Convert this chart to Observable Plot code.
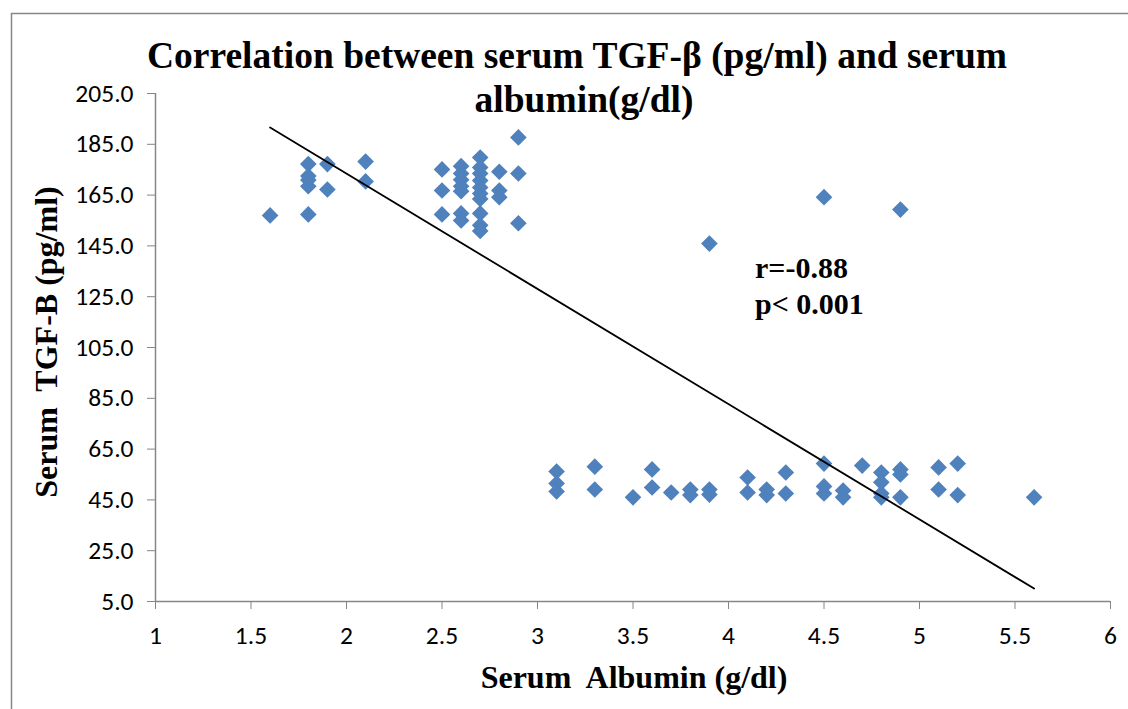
<!DOCTYPE html>
<html>
<head>
<meta charset="utf-8">
<script src="https://cdn.jsdelivr.net/npm/d3@7"></script>
<script src="https://cdn.jsdelivr.net/npm/@observablehq/plot@0.6"></script>
<style>
  html, body { margin: 0; padding: 0; background: #fff; overflow: hidden; }
  #chart { width: 1128px; height: 709px; position: relative; overflow: hidden; }
  #chart svg { overflow: hidden; }
</style>
</head>
<body>
<div id="chart"></div>
<script>
// Serum albumin (g/dl) for each patient
const albumin = [
  1.6,
  1.8, 1.8, 1.8, 1.8, 1.8,
  1.9, 1.9,
  2.1, 2.1,
  2.5, 2.5, 2.5,
  2.6, 2.6, 2.6, 2.6, 2.6, 2.6, 2.6,
  2.7, 2.7, 2.7, 2.7, 2.7, 2.7, 2.7, 2.7, 2.7, 2.7,
  2.8, 2.8, 2.8,
  2.9, 2.9, 2.9,
  3.1, 3.1, 3.1,
  3.3, 3.3,
  3.5,
  3.6, 3.6,
  3.7,
  3.8, 3.8,
  3.9, 3.9, 3.9,
  4.1, 4.1,
  4.2, 4.2,
  4.3, 4.3,
  4.5, 4.5, 4.5, 4.5,
  4.6, 4.6,
  4.7,
  4.8, 4.8, 4.8, 4.8,
  4.9, 4.9, 4.9, 4.9,
  5.1, 5.1,
  5.2, 5.2,
  5.6
];
// Serum TGF-beta (pg/ml) for each patient
const tgf = [
  157.0,
  177.2, 172.5, 170.9, 168.5, 157.4,
  177.2, 167.2,
  178.2, 170.4,
  175.1, 166.8, 157.4,
  176.4, 173.5, 171.0, 168.5, 166.5, 157.8, 155.0,
  179.8, 175.9, 173.5, 170.7, 168.0, 165.6, 163.5, 157.8, 153.1, 150.9,
  174.2, 166.8, 164.2,
  187.7, 173.5, 153.9,
  56.2, 51.5, 48.3,
  58.1, 49.1,
  46.0,
  57.0, 49.9,
  47.9,
  49.1, 46.9,
  145.9, 49.1, 47.1,
  53.8, 47.9,
  49.1, 46.9,
  55.8, 47.5,
  164.2, 59.3, 50.3, 47.5,
  48.7, 46.0,
  58.5,
  55.8, 51.9, 47.5, 46.0,
  159.3, 57.0, 55.0, 46.0,
  57.8, 49.1,
  59.3, 46.9,
  46.0
];
// Trend line end points
const trendX = [1.6, 5.6];
const trendY = [191.6, 10.1];

const xTicks = [1, 1.5, 2, 2.5, 3, 3.5, 4, 4.5, 5, 5.5, 6];
const yTicks = [5, 25, 45, 65, 85, 105, 125, 145, 165, 185, 205];

const title1 = "Correlation between serum TGF-\u03B2 (pg/ml) and serum";
const title2 = "albumin(g/dl)";
const xTitle = "Serum  Albumin (g/dl)";
const yTitle = "Serum  TGF-B (pg/ml)";
const note1 = "r=-0.88";
const note2 = "p< 0.001";

const points = albumin.map((a, i) => ({a, t: tgf[i]}));
const trend = trendX.map((x, i) => ({x, y: trendY[i]}));

const axisGray = "#868686";
const tickFont = "Carlito, Lato, 'Liberation Sans', sans-serif";
const serif = "'Liberation Serif', 'Times New Roman', serif";

const plot = Plot.plot({
  width: 1128,
  height: 709,
  marginLeft: 155,
  marginRight: 18,
  marginTop: 93,
  marginBottom: 108,
  style: {fontFamily: tickFont, fontSize: "25px", background: "#fff", color: "#000", overflow: "hidden"},
  x: {domain: [1, 6]},
  y: {domain: [5, 205]},
  marks: [
    Plot.axisY({ticks: yTicks, tickFormat: d => d.toFixed(1), tickSize: 8, tickPadding: 14,
                stroke: axisGray, fill: "#000", fontSize: 25.5, label: null}),
    Plot.axisX({ticks: xTicks, tickFormat: d => String(d), tickSize: 8, tickPadding: 16,
                stroke: axisGray, fill: "#000", fontSize: 25.5, label: null}),
    Plot.ruleX([1], {stroke: axisGray, strokeWidth: 1.5}),
    Plot.ruleY([5], {stroke: axisGray, strokeWidth: 1.5}),
    Plot.dot(points, {x: "a", y: "t", symbol: "diamond2", r: 7.5, fill: "#4F81BD", stroke: "none"}),
    Plot.line(trend, {x: "x", y: "y", stroke: "#000", strokeWidth: 1.8})
  ]
});

document.getElementById("chart").appendChild(plot);

const svg = d3.select(plot);
// outer frame (left and top edges visible)
svg.insert("rect", ":first-child")
  .attr("x", 11.5).attr("y", 13.5)
  .attr("width", 1300).attr("height", 900)
  .attr("fill", "none").attr("stroke", axisGray).attr("stroke-width", 1.5);

function addText(txt, x, y, size, anchor, rotate) {
  const t = svg.append("text")
    .attr("x", x).attr("y", y)
    .attr("text-anchor", anchor)
    .attr("font-family", serif)
    .attr("font-weight", "bold")
    .attr("font-size", size)
    .attr("fill", "#000")
    .text(txt);
  if (rotate) t.attr("transform", `rotate(-90 ${x} ${y})`);
  return t;
}
addText(title1, 577, 68, 37.5, "middle");
addText(title2, 584, 112, 37.5, "middle");
addText(xTitle, 634, 688, 32, "middle");
addText(yTitle, 57, 342, 32, "middle", true);
addText(note1, 755, 278, 30, "start");
addText(note2, 755, 314, 30, "start");
</script>
</body>
</html>
